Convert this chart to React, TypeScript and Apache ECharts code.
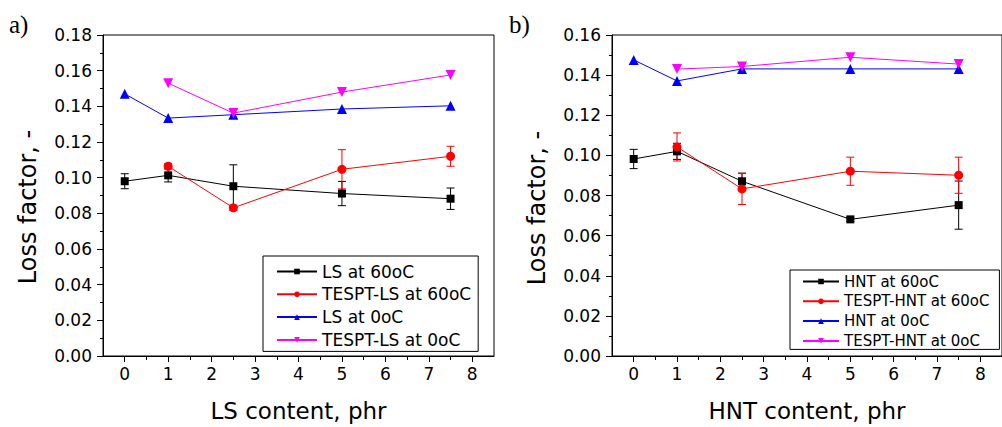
import React, { useEffect, useRef } from "react";
import * as echarts from "echarts";

// ---- data ----
const contentAll = [0, 1, 2.5, 5, 7.5];
const contentTespt = [1, 2.5, 5, 7.5];
const xTickValues = [0, 1, 2, 3, 4, 5, 6, 7, 8];
const xMinorTickValues = [0.5, 1.5, 2.5, 3.5, 4.5, 5.5, 6.5, 7.5];

// panel a (LS)
const ls60 = [0.098, 0.1013, 0.0952, 0.0911, 0.0882];
const ls60Err = [0.0042, 0.0037, 0.012, 0.0068, 0.006];
const tesptLs60 = [0.1064, 0.0831, 0.1047, 0.112];
const tesptLs60Err = [0.0015, 0.0015, 0.011, 0.0056];
const ls0 = [0.147, 0.1334, 0.1353, 0.1385, 0.1403];
const tesptLs0 = [0.153, 0.1362, 0.148, 0.1576];

// panel b (HNT)
const hnt60 = [0.0982, 0.102, 0.0871, 0.0681, 0.0752];
const hnt60Err = [0.0048, 0.004, 0.004, 0.001, 0.012];
const tesptHnt60 = [0.1042, 0.0833, 0.0921, 0.0901];
const tesptHnt60Err = [0.007, 0.0078, 0.007, 0.009];
const hnt0 = [0.1476, 0.1371, 0.1431, 0.1431, 0.1431];
const tesptHnt0 = [0.143, 0.1443, 0.1489, 0.1455];

const namesA = ["LS at 60oC", "TESPT-LS at 60oC", "LS at 0oC", "TESPT-LS at 0oC"];
const namesB = ["HNT at 60oC", "TESPT-HNT at 60oC", "HNT at 0oC", "TESPT-HNT at 0oC"];
const colors = ["#000000", "#ff0000", "#0000ff", "#ff00ff"];
const yTitle = "Loss factor, -";

const FONT = "DejaVu Sans";

function pairs(xs: number[], ys: number[]) {
  return xs.map((x, i) => [x, ys[i]]);
}

function lineSeries(name: string, xs: number[], ys: number[], color: string, kind: number, xi: number, yi: number) {
  const symbols = ["rect", "circle", "triangle", "triangle"];
  const sizes = [8, 9, 10, 10];
  return {
    type: "line",
    name,
    xAxisIndex: xi,
    yAxisIndex: yi,
    data: pairs(xs, ys),
    symbol: symbols[kind],
    symbolSize: sizes[kind],
    symbolRotate: kind === 3 ? 180 : 0,
    showSymbol: true,
    lineStyle: { color, width: 1 },
    itemStyle: { color, borderWidth: 0 },
    z: 3,
  };
}

function errSeries(xs: number[], ys: number[], errs: number[], color: string, xi: number, yi: number) {
  const data = xs.map((x, i) => [x, ys[i] - errs[i], ys[i] + errs[i]]);
  return {
    type: "custom",
    xAxisIndex: xi,
    yAxisIndex: yi,
    silent: true,
    z: 2,
    encode: { x: 0, y: [1, 2] },
    data,
    renderItem: (params: any, api: any) => {
      const x = api.value(0);
      const lo = api.value(1);
      const hi = api.value(2);
      const pHi = api.coord([x, hi]);
      const pLo = api.coord([x, lo]);
      const w = 4;
      const st = { stroke: color, lineWidth: 1 };
      return {
        type: "group",
        children: [
          { type: "line", shape: { x1: pHi[0], y1: pHi[1], x2: pLo[0], y2: pLo[1] }, style: st },
          { type: "line", shape: { x1: pHi[0] - w, y1: pHi[1], x2: pHi[0] + w, y2: pHi[1] }, style: st },
          { type: "line", shape: { x1: pLo[0] - w, y1: pLo[1], x2: pLo[0] + w, y2: pLo[1] }, style: st },
        ],
      };
    },
  };
}

function mainX(gridIndex: number, name: string) {
  return {
    type: "value",
    gridIndex,
    min: -0.5,
    max: 8.5,
    position: "bottom",
    name,
    nameLocation: "middle",
    nameGap: 43,
    nameTextStyle: { fontFamily: FONT, fontSize: 23, color: "#000" },
    axisLine: { show: true, onZero: false, lineStyle: { color: "#000", width: 1 } },
    axisTick: { show: true, inside: false, length: 6, customValues: xTickValues, lineStyle: { color: "#000" } },
    axisLabel: { show: true, customValues: xTickValues, margin: 9, fontFamily: FONT, fontSize: 17, color: "#000" },
    splitLine: { show: false },
  };
}

function minorX(gridIndex: number) {
  return {
    type: "value",
    gridIndex,
    min: -0.5,
    max: 8.5,
    position: "bottom",
    axisLine: { show: false, onZero: false },
    axisTick: { show: true, inside: false, length: 4, customValues: xMinorTickValues, lineStyle: { color: "#000" } },
    axisLabel: { show: false },
    splitLine: { show: false },
  };
}

function mainY(gridIndex: number, max: number) {
  return {
    type: "value",
    gridIndex,
    min: 0,
    max,
    interval: 0.02,
    axisLine: { show: true, onZero: false, lineStyle: { color: "#000", width: 1 } },
    axisTick: { show: true, inside: false, length: 6, lineStyle: { color: "#000" } },
    minorTick: { show: true, splitNumber: 2, length: 3, lineStyle: { color: "#000" } },
    axisLabel: {
      margin: 11,
      fontFamily: FONT,
      fontSize: 17,
      color: "#000",
      formatter: (v: number) => v.toFixed(2),
    },
    splitLine: { show: false },
  };
}

export default function App() {
  const ref = useRef<HTMLDivElement>(null);
  useEffect(() => {
    document.body.style.margin = "0";
    const chart = echarts.init(ref.current!, null, { renderer: "svg" });
    const titleStyle = {
      text: yTitle,
      font: `24px '${FONT}'`,
      fill: "#000",
      textAlign: "center",
      textVerticalAlign: "middle",
    };
    const option: any = {
      animation: false,
      backgroundColor: "#ffffff",
      grid: [
        { left: 103, top: 35, width: 391, height: 322, show: true, borderColor: "#000", borderWidth: 1, backgroundColor: "transparent" },
        { left: 612, top: 35, width: 391, height: 322, show: true, borderColor: "#000", borderWidth: 1, backgroundColor: "transparent" },
      ],
      xAxis: [mainX(0, "LS content, phr"), minorX(0), mainX(1, "HNT content, phr"), minorX(1)],
      yAxis: [mainY(0, 0.18), mainY(1, 0.16)],
      legend: [
        {
          data: namesA,
          orient: "vertical",
          left: 263,
          top: 256,
          padding: [7, 7, 3, 13],
          itemWidth: 40,
          itemHeight: 7,
          itemGap: 5.8,
          borderColor: "#000",
          borderWidth: 1,
          backgroundColor: "#fff",
          textStyle: { fontFamily: FONT, fontSize: 17, color: "#000" },
        },
        {
          data: namesB,
          orient: "vertical",
          left: 790,
          top: 270,
          padding: [4, 10, 1, 12],
          itemWidth: 36,
          itemHeight: 7,
          itemGap: 4.8,
          borderColor: "#000",
          borderWidth: 1,
          backgroundColor: "#fff",
          textStyle: { fontFamily: FONT, fontSize: 15, color: "#000" },
        },
      ],
      graphic: [
        { type: "text", left: 9, top: 12, style: { text: "a)", font: "25px 'Liberation Serif'", fill: "#000" } },
        { type: "text", left: 509, top: 12, style: { text: "b)", font: "25px 'Liberation Serif'", fill: "#000" } },
        { type: "text", x: 28, y: 207, rotation: Math.PI / 2, style: titleStyle },
        { type: "text", x: 537, y: 208, rotation: Math.PI / 2, style: titleStyle },
      ],
      series: [
        errSeries(contentAll, ls60, ls60Err, colors[0], 0, 0),
        errSeries(contentTespt, tesptLs60, tesptLs60Err, colors[1], 0, 0),
        lineSeries(namesA[0], contentAll, ls60, colors[0], 0, 0, 0),
        lineSeries(namesA[1], contentTespt, tesptLs60, colors[1], 1, 0, 0),
        lineSeries(namesA[2], contentAll, ls0, colors[2], 2, 0, 0),
        lineSeries(namesA[3], contentTespt, tesptLs0, colors[3], 3, 0, 0),
        errSeries(contentAll, hnt60, hnt60Err, colors[0], 2, 1),
        errSeries(contentTespt, tesptHnt60, tesptHnt60Err, colors[1], 2, 1),
        lineSeries(namesB[0], contentAll, hnt60, colors[0], 0, 2, 1),
        lineSeries(namesB[1], contentTespt, tesptHnt60, colors[1], 1, 2, 1),
        lineSeries(namesB[2], contentAll, hnt0, colors[2], 2, 2, 1),
        lineSeries(namesB[3], contentTespt, tesptHnt0, colors[3], 3, 2, 1),
      ],
    };
    chart.setOption(option);
    return () => chart.dispose();
  }, []);
  return <div ref={ref} style={{ position: "fixed", left: 0, top: 0, width: 1002, height: 427 }} />;
}
